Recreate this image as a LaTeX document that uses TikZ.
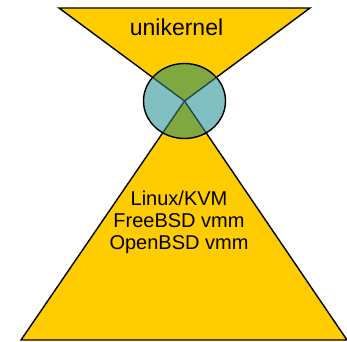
\documentclass[tikz,border=0pt]{standalone}
\usepackage{fontspec}
\setmainfont{Liberation Sans}
\definecolor{fillyellow}{HTML}{FFCC00}
\definecolor{secgreen}{HTML}{80A840}
\definecolor{secteal}{HTML}{80C0C0}
\definecolor{innerline}{HTML}{1F4A50}
\begin{document}
\begin{tikzpicture}[x=1pt,y=-1pt,
  yshape/.style={fill=fillyellow,draw=black,line width=1.4pt,line join=miter},
  txt/.style={inner sep=0pt,text=black}]
\useasboundingbox (0,0) rectangle (347,341);
\coordinate (c) at (184.5,101);
\coordinate (tl) at (59,8);
\coordinate (tr) at (310,8);
\coordinate (bl) at (21,340);
\coordinate (br) at (347,340);
% bottom triangle
\filldraw[yshape] (c) -- (bl) -- (br) -- cycle;
% top triangle
\filldraw[yshape] (tl) -- (tr) -- (c) -- cycle;
% circle
\fill[secteal] (c) ellipse [x radius=41, y radius=37.5];
\begin{scope}
  \clip (c) ellipse [x radius=41, y radius=37.5];
  \fill[secgreen] (tl) -- (tr) -- (c) -- cycle;
  \fill[secgreen] (c) -- (bl) -- (br) -- cycle;
  \draw[innerline,line width=1.4pt] (tl) -- (c) -- (tr);
  \draw[innerline,line width=1.4pt] (bl) -- (c) -- (br);
\end{scope}
\draw[black,line width=1.4pt] (c) ellipse [x radius=41, y radius=37.5];
\node[txt,font=\fontsize{23}{27}\selectfont,anchor=base] (uk) at (176.5,35) {unikernel};
\node[txt,font=\fontsize{20}{22}\selectfont,anchor=base] (l1) at (179,205) {Linux/KVM};
\node[txt,font=\fontsize{20}{22}\selectfont,anchor=base] (l2) at (179,227) {FreeBSD vmm};
\node[txt,font=\fontsize{20}{22}\selectfont,anchor=base] (l3) at (179,249) {OpenBSD vmm};
\end{tikzpicture}
\end{document}
